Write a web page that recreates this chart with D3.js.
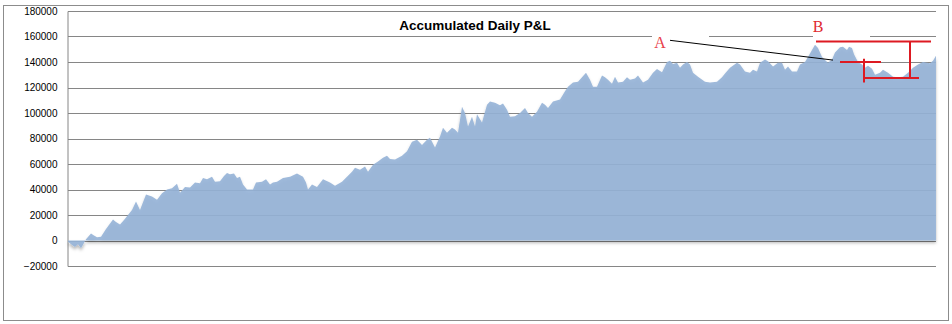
<!DOCTYPE html>
<html>
<head>
<meta charset="utf-8">
<script src="https://cdn.jsdelivr.net/npm/d3@7"></script>
<style>
  body { margin: 0; background: #fff; }
  svg { display: block; }
</style>
</head>
<body>
<script>
// trading day (from start) and accumulated P&L
var days = [0, 4, 7, 10, 13, 16, 18, 23, 26, 29, 33, 38, 45, 48, 52, 56, 60, 64, 68, 72, 78, 84, 89, 94, 99, 104,
  109, 112, 117, 122, 127, 132, 135, 139, 144, 147, 152, 156, 159, 162, 166, 169, 172, 175, 179, 185, 188, 194,
  198, 202, 205, 209, 215, 222, 229, 235, 238, 240, 244, 249, 255, 262, 267, 274, 279, 284, 287, 292, 297, 300,
  305, 310, 315, 319, 322, 327, 334, 339, 344, 349, 354, 359, 362, 367, 372, 375, 379, 384, 387, 390, 394, 397,
  400, 404, 407, 409, 414, 419, 422, 427, 432, 435, 439, 442, 447, 452, 457, 460, 464, 469, 474, 477, 480, 485,
  492, 497, 500, 505, 510, 514, 518, 522, 525, 529, 534, 537, 540, 544, 547, 550, 555, 559, 562, 567, 570, 575,
  580, 585, 589, 594, 599, 602, 605, 609, 612, 615, 619, 622, 625, 630, 637, 642, 649, 654, 657, 662, 669, 672,
  677, 682, 685, 689, 692, 697, 700, 705, 710, 714, 717, 720, 724, 729, 732, 737, 740, 744, 747, 750, 754, 757,
  760, 764, 767, 772, 775, 779, 781, 784, 786, 790, 794, 797, 800, 804, 807, 812, 815, 820, 825, 830, 835, 840,
  845, 850, 855, 859, 862, 865, 868];
var pnl = [-1000, -3500, -5000, -3000, -6000, -2000, 1000, 5500, 4000, 2500, 3000, 9000, 16500, 14500, 12500,
  16000, 20000, 24000, 30500, 24000, 36000, 34500, 32000, 37000, 40000, 41000, 44500, 37500, 42000, 41500, 45500,
  45000, 49000, 48000, 50000, 46000, 46500, 50500, 53000, 52000, 52500, 49000, 50000, 44000, 40000, 40000, 45500,
  46000, 48000, 44000, 45500, 46000, 49000, 50000, 52500, 50000, 45500, 40000, 44000, 42000, 48000, 45500, 43000,
  46000, 50000, 54000, 57000, 55500, 58000, 54000, 59500, 62000, 65000, 66500, 64000, 63500, 66500, 70000, 77500,
  79000, 75000, 79000, 80500, 73000, 81500, 88500, 84500, 88500, 87000, 84500, 105000, 100000, 89500, 97000,
  89500, 99000, 92500, 106500, 109000, 108000, 106000, 107500, 102500, 97000, 97500, 100000, 104000, 100000,
  97000, 101000, 108000, 106500, 104000, 109000, 110500, 117000, 120500, 124000, 124500, 128000, 131500, 126000,
  120500, 120500, 129500, 128000, 126000, 123000, 128500, 124000, 124500, 128000, 126000, 127000, 129500, 124000,
  126000, 131500, 134500, 132000, 140000, 141000, 138500, 139500, 135500, 138000, 140000, 138000, 131500, 128500,
  124500, 124000, 124500, 128000, 131000, 135500, 139500, 138000, 132500, 131500, 134000, 132500, 139500, 142000,
  140500, 136500, 139500, 139500, 134000, 136500, 132500, 132500, 138000, 140000, 144000, 149500, 153500, 151000,
  144000, 141500, 139500, 142000, 147500, 151500, 152000, 149500, 152000, 151000, 146000, 140000, 138000, 135500,
  137000, 134800, 130000, 131500, 134000, 131500, 128500, 128000, 128500, 131500, 135500, 138000, 140000, 139500,
  139000, 141000, 145000];
var yTicks = [-20000, 0, 20000, 40000, 60000, 80000, 100000, 120000, 140000, 160000, 180000];

var W = 952, H = 324;
var svg = d3.select("body").append("svg")
    .attr("width", W)
    .attr("height", H);

// outer chart border
svg.append("rect")
    .attr("x", 3.5).attr("y", 5.5)
    .attr("width", 945).attr("height", 315)
    .attr("fill", "#fff")
    .attr("stroke", "#8c8c8c");

var x = d3.scaleLinear().domain([0, 868]).range([68, 936]);
var y = d3.scaleLinear().domain([-20000, 180000]).range([266, 11]);

var defs = svg.append("defs");
var f = defs.append("filter").attr("id", "shadow")
    .attr("x", "-5%").attr("y", "-5%").attr("width", "110%").attr("height", "120%");
f.append("feDropShadow")
    .attr("dx", 0).attr("dy", 2.5)
    .attr("stdDeviation", 1.5)
    .attr("flood-color", "#000")
    .attr("flood-opacity", 0.3);

// grid
svg.append("g")
  .selectAll("line")
  .data(yTicks)
  .enter().append("line")
    .attr("x1", 68).attr("x2", 936)
    .attr("y1", function(d) { return Math.round(y(d)) + 0.5; })
    .attr("y2", function(d) { return Math.round(y(d)) + 0.5; })
    .attr("stroke", "#868686");

// y axis
var yAxis = d3.axisLeft(y).tickValues(yTicks).tickSize(0).tickPadding(10)
    .tickFormat(d3.format("d"));
var ga = svg.append("g").attr("transform", "translate(67.5,0)").call(yAxis);
ga.select(".domain").attr("stroke", "#868686");
ga.selectAll("text")
    .attr("font-family", "Liberation Sans, Arial, sans-serif")
    .attr("font-size", 10)
    .attr("fill", "#000");

var pts = days.map(function(d, i) { return [d, pnl[i]]; });

var area = d3.area()
    .x(function(d) { return x(d[0]); })
    .y0(y(0))
    .y1(function(d) { return y(d[1]); });

svg.append("path")
    .datum(pts)
    .attr("d", area)
    .attr("fill", "#95b3d7")
    .attr("fill-opacity", 0.9)
    .attr("filter", "url(#shadow)");

// title
svg.append("text")
    .attr("x", 475).attr("y", 30)
    .attr("text-anchor", "middle")
    .attr("font-family", "Liberation Sans, Arial, sans-serif")
    .attr("font-weight", "bold")
    .attr("font-size", 13.5)
    .text("Accumulated Daily P&L");

// annotations (text boxes hide the grid line behind them)
svg.append("rect").attr("x", 652).attr("y", 30).attr("width", 57).attr("height", 18).attr("fill", "#fff");
svg.append("rect").attr("x", 813).attr("y", 14).attr("width", 57).attr("height", 26).attr("fill", "#fff");

svg.append("line")
    .attr("x1", x(602)).attr("y1", y(157000))
    .attr("x2", x(765)).attr("y2", y(141500))
    .attr("stroke", "#000").attr("stroke-width", 1);

var red = "#dd1a22";
var redLines = [
  [748, 156000, 863, 156000],
  [842, 156000, 842, 127500],
  [795, 127500, 851, 127500],
  [772, 140000, 813, 140000],
  [796, 142500, 796, 124000]
];
svg.append("g")
  .selectAll("line")
  .data(redLines)
  .enter().append("line")
    .attr("x1", function(d) { return x(d[0]); })
    .attr("y1", function(d) { return y(d[1]); })
    .attr("x2", function(d) { return x(d[2]); })
    .attr("y2", function(d) { return y(d[3]); })
    .attr("stroke", red)
    .attr("stroke-width", 2);

svg.append("text")
    .attr("x", 660).attr("y", 48)
    .attr("text-anchor", "middle")
    .attr("font-family", "Liberation Serif, Times New Roman, serif")
    .attr("font-size", 16)
    .attr("fill", "#e8404a")
    .text("A");
svg.append("text")
    .attr("x", 818).attr("y", 32)
    .attr("text-anchor", "middle")
    .attr("font-family", "Liberation Serif, Times New Roman, serif")
    .attr("font-size", 16)
    .attr("fill", "#e02a30")
    .text("B");
</script>
</body>
</html>
